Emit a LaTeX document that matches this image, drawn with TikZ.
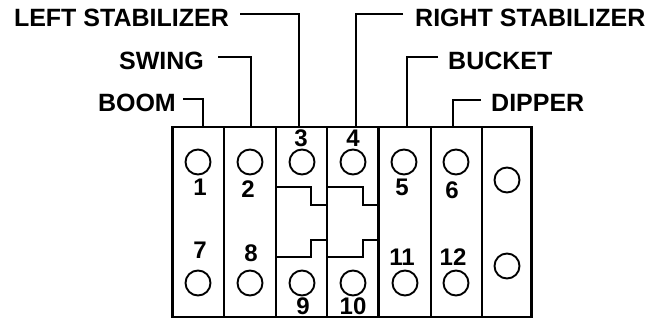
\documentclass[tikz,border=0pt]{standalone}
\usepackage{fontspec}
\setmainfont{Liberation Sans}
\begin{document}
\begin{tikzpicture}[x=1pt,y=-1pt,
  lbl/.style={font=\fontsize{25}{25}\selectfont\bfseries,inner sep=0pt},
  num/.style={font=\fontsize{24}{24}\selectfont\bfseries,inner sep=0pt},
  hole/.style={circle,draw,line width=1.9pt,minimum size=25pt,inner sep=0pt},
  frame/.style={line width=2.4pt},
  lead/.style={line width=2.1pt}]
\useasboundingbox (0,0) rectangle (664,320);
% frame
\coordinate (tl) at (172.5,127);
\coordinate (br) at (531.5,317);
\draw[frame] (tl) rectangle (br);
\foreach \x in {224,276,327,378.5,431,482}
  \draw[frame] (\x,127) -- (\x,317);
% steps
\draw[frame] (276,187) -- (311,187) -- (311,205) -- (327,205);
\draw[frame] (327,240) -- (311,240) -- (311,257) -- (276,257);
\draw[frame] (327,187) -- (363,187) -- (363,205) -- (378.5,205);
\draw[frame] (378.5,240) -- (363,240) -- (363,257) -- (327,257);
% holes
\node[hole] (h1) at (198,162) {};
\node[hole] (h2) at (250,162) {};
\node[hole] (h3) at (302,162) {};
\node[hole] (h4) at (353,162) {};
\node[hole] (h5) at (404,162) {};
\node[hole] (h6) at (456,162) {};
\node[hole] (h7) at (198,283) {};
\node[hole] (h8) at (250,283) {};
\node[hole] (h9) at (302,283) {};
\node[hole] (h10) at (353,283) {};
\node[hole] (h11) at (405,283) {};
\node[hole] (h12) at (456,283) {};
\node[hole] (ha) at (507,180) {};
\node[hole] (hb) at (507,266) {};
% numbers
\node[num] (n1) at (200,187.5) {1};
\node[num] (n2) at (248,189) {2};
\node[num] (n3) at (301,138.5) {3};
\node[num] (n4) at (353,138.5) {4};
\node[num] (n5) at (402,187) {5};
\node[num] (n6) at (452,190) {6};
\node[num] (n7) at (200,250) {7};
\node[num] (n8) at (251,253.5) {8};
\node[num] (n9) at (303,306.5) {9};
\node[num] (n10) at (353,306.5) {10};
\node[num] (n11) at (402,257) {11};
\node[num] (n12) at (453,257) {12};
% labels
\node[lbl,anchor=base east] (boom) at (176,112) {BOOM};
\node[lbl,anchor=base east] (swing) at (204,70) {SWING};
\node[lbl,anchor=base east] (lstab) at (229,27) {LEFT STABILIZER};
\node[lbl,anchor=base west] (rstab) at (415,27) {RIGHT STABILIZER};
\node[lbl,anchor=base west] (bucket) at (448,70) {BUCKET};
\node[lbl,anchor=base west] (dipper) at (491,112) {DIPPER};
% leaders
\coordinate (b1) at (203,127);
\coordinate (b2) at (251,127);
\coordinate (b3) at (299,127);
\coordinate (b4) at (356,127);
\coordinate (b5) at (407,127);
\coordinate (b6) at (453,127);
\draw[lead] ([xshift=7pt]boom.east |- 0,99) -| (b1);
\draw[lead] ([xshift=14pt]swing.east |- 0,57) -| (b2);
\draw[lead] ([xshift=11pt]lstab.east |- 0,14) -| (b3);
\draw[lead] ([xshift=-12pt]rstab.west |- 0,14) -| (b4);
\draw[lead] ([xshift=-10pt]bucket.west |- 0,57) -| (b5);
\draw[lead] ([xshift=-10pt]dipper.west |- 0,100) -| (b6);
\end{tikzpicture}
\end{document}
